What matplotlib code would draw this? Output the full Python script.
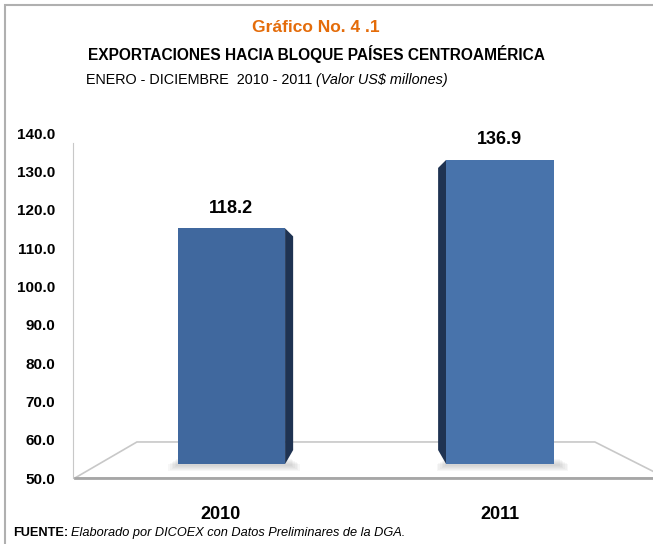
import matplotlib as mpl
mpl.use('Agg')
import matplotlib.pyplot as plt
from matplotlib.patches import Polygon, Rectangle

plt.rcParams['font.family'] = ['Liberation Sans Narrow', 'Liberation Sans', 'DejaVu Sans']

years = ['2010', '2011']
values = [118.2, 136.9]
value_labels = ['118.2', '136.9']
yticks = [50, 60, 70, 80, 90, 100, 110, 120, 130, 140]

# colores
front_colors = ['#40689E', '#4873AB']
side_color = '#1F3352'
grid_gray = '#C8C8C8'

# perspectiva del grafico 3D de excel
persp = 0.955
bar_base = 53.65
bar_w = 0.40

fig = plt.figure(figsize=(6.53, 5.44), dpi=100)
ax = fig.add_axes([0.1118, 0.1213, 0.888, 0.6342])
ax.set_ylim(50, 140)
ax.set_xlim(-0.59, 1.57)

# piso
floor = Polygon([(-0.583, 50), (-0.352, 59.4), (1.354, 59.4), (1.62, 50)],
                closed=True, facecolor='white', edgecolor=grid_gray, lw=1.2,
                clip_on=False, zorder=1)
ax.add_patch(floor)
ax.plot([-0.583, 1.62], [50, 50], color='#A6A6A6', lw=2, clip_on=False, zorder=2)

for i, v in enumerate(values):
    top = 50 + (v - 50) * persp
    # sombra difusa
    for k in range(6):
        ax.add_patch(Rectangle((i - bar_w / 2 - 0.035 + k * 0.006, bar_base - 1.8 + k * 0.25),
                               bar_w + 0.09 - k * 0.012, 1.8, color='#909090',
                               alpha=0.07, lw=0, zorder=2))
    ax.bar(i, top - bar_base, bottom=bar_base, width=bar_w, color=front_colors[i],
           zorder=4)
    dx = 0.03
    if i == 0:
        xe = i + bar_w / 2
        side = [(xe, top), (xe + dx, top - 2.1), (xe + dx, 57.3), (xe, bar_base)]
    else:
        xe = i - bar_w / 2
        side = [(xe, top), (xe - dx, top - 2.1), (xe - dx, 57.3), (xe, bar_base)]
    ax.add_patch(Polygon(side, closed=True, facecolor=side_color, lw=0, zorder=3))
    ax.text(i, top + 5.2, value_labels[i], ha='center', va='center',
            fontsize=13, fontweight='bold')

ax.set_yticks(yticks)
ax.set_yticklabels([f'{t:.1f}' for t in yticks], fontsize=11, fontweight='bold')
ax.set_xticks([-0.04, 1.0])
ax.set_xticklabels(years, fontsize=13, fontweight='bold')
ax.tick_params(axis='y', length=0, pad=13)
ax.tick_params(axis='x', length=0, pad=20)
for s in ['top', 'right', 'bottom']:
    ax.spines[s].set_visible(False)
ax.spines['left'].set_color(grid_gray)
ax.spines['left'].set_bounds(50, 137.5)
ax.patch.set_alpha(0)

# marco
fig.add_artist(Rectangle((5 / 653, -0.01), 1.0, 1 - 5 / 544 + 0.01,
                         transform=fig.transFigure, fill=False,
                         edgecolor='#B0B0B0', lw=1.5))

fig.text(0.484, 1 - 27 / 544, 'Gráfico No. 4 .1', ha='center', va='center',
         fontsize=12.5, fontweight='bold', color='#E46C0A')
fig.text(0.484, 1 - 54 / 544, 'EXPORTACIONES HACIA BLOQUE PAÍSES CENTROAMÉRICA',
         ha='center', va='center', fontsize=11.2, fontweight='bold')
fig.text(0.484, 1 - 80 / 544, 'ENERO - DICIEMBRE  2010 - 2011 ', ha='right', va='center',
         fontsize=10.4)
fig.text(0.484, 1 - 80 / 544, '(Valor US$ millones)', ha='left', va='center',
         fontsize=10.4, style='italic')

ftxt = fig.text(13 / 653, 1 - 533 / 544, 'FUENTE:', ha='left', va='center',
                fontsize=9.2, fontweight='bold')
fig.canvas.draw()
bb = ftxt.get_window_extent()
fig.text(bb.x1 / fig.bbox.width + 0.004, 1 - 533 / 544,
         'Elaborado por DICOEX con Datos Preliminares de la DGA.',
         ha='left', va='center', fontsize=9.2, style='italic')

plt.savefig('out.png', dpi=100)
